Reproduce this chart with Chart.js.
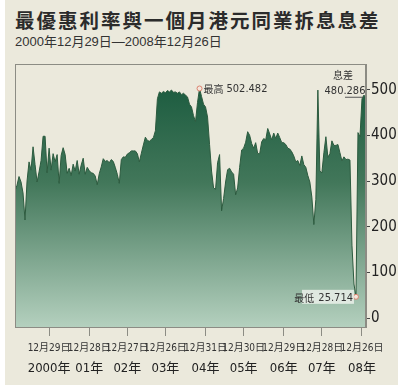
<!DOCTYPE html>
<html>
<head>
<meta charset="utf-8">
<script src="https://cdn.jsdelivr.net/npm/chart.js@4.4.1/dist/chart.umd.min.js"></script>
<style>
  html, body { margin: 0; padding: 0; background: #fff; }
  #panel { position: absolute; left: 5px; top: 0; width: 393px; height: 385px; background: #ebe9dc; }
  #title { position: absolute; left: 15px; top: 8px; margin: 0; font: bold 19.5px "Noto Sans CJK TC", sans-serif;
           letter-spacing: 2px; color: #2b2b2b; line-height: 24px; white-space: nowrap; }
  #sub { position: absolute; left: 15px; top: 34px; font: 13px "Liberation Sans", "Noto Sans CJK TC", sans-serif;
         color: #333; line-height: 16px; white-space: nowrap; }
  #chart { position: absolute; left: 0; top: 0; }
</style>
</head>
<body>
<div id="panel"></div>
<div id="title">最優惠利率與一個月港元同業拆息息差</div>
<div id="sub">2000年12月29日—2008年12月26日</div>
<canvas id="chart" width="400" height="389"></canvas>
<script>
// prime rate minus 1-month HIBOR (roughly two samples a month)
const spread = [
  278, 291, 310, 298, 274, 215, 300, 342, 324, 375, 336, 298, 320, 345, 398, 398,
  318, 372, 324, 360, 342, 358, 295, 356, 373, 358, 317, 328, 312, 337, 322, 345,
  315, 335, 350, 315, 330, 323, 318, 317, 311, 292, 316, 331, 349, 343, 345, 340,
  347, 343, 330, 315, 295, 347, 353, 352, 359, 362, 366, 366, 366, 360, 342, 361,
  379, 396, 389, 387, 391, 395, 410, 480, 495, 492, 496, 493, 498, 495, 499, 494,
  495, 492, 495, 489, 492, 488, 484, 468, 462, 443, 430, 472, 502.482, 485, 468, 462,
  440, 380, 322, 285, 282, 340, 358, 235, 262, 298, 325, 328, 320, 315, 270, 285,
  330, 368, 372, 385, 408, 400, 382, 372, 384, 360, 360, 386, 393, 390, 415, 403,
  390, 405, 393, 405, 395, 384, 384, 380, 372, 370, 364, 355, 342, 345, 334, 355,
  336, 330, 312, 298, 265, 205, 260, 499, 322, 318, 362, 397, 352, 360, 388, 378,
  378, 380, 362, 344, 353, 347, 348, 346, 160, 75, 47, 406, 397, 480, 488, 480
];

// where each year-end date falls in the series
const yearEndIndex = [17, 37, 56, 75, 95, 114, 134, 153, 173];
const dateLabels = ["12月29日", "12月28日", "12月27日", "12月26日", "12月31日", "12月30日", "12月29日", "12月28日", "12月26日"];
const yearLabels = ["2000年", "01年", "02年", "03年", "04年", "05年", "06年", "07年", "08年"];
const yTicks = [0, 100, 200, 300, 400, 500];

const maxText = "502.482";
const minText = "25.714";
const lastText = "480.286";

const maxIdx = spread.indexOf(Math.max(...spread));
const minIdx = spread.indexOf(Math.min(...spread));
const lastIdx = spread.length - 1;

const narrow = '"Liberation Sans Narrow", "DejaVu Sans Condensed", "Liberation Sans", "Noto Sans CJK TC", sans-serif';
const cjk = '"Noto Sans CJK TC", sans-serif';

function areaGradient(ctx) {
  const area = ctx.chart.chartArea;
  if (!area) return "#4a7f60";
  const g = ctx.chart.ctx.createLinearGradient(0, area.top, 0, area.bottom);
  g.addColorStop(0, "#14563a");
  g.addColorStop(0.45, "#42775a");
  g.addColorStop(1, "#b4d0be");
  return g;
}

// thin frame round the plot area
const frame = {
  id: "frame",
  afterDatasetsDraw(chart) {
    const { ctx, chartArea: a } = chart;
    ctx.save();
    ctx.strokeStyle = "#8c8c84";
    ctx.lineWidth = 1;
    ctx.strokeRect(a.left + 0.5, a.top + 0.5, a.right - a.left - 1, a.bottom - a.top);
    ctx.restore();
  }
};

// the high / low / latest notes
const notes = {
  id: "notes",
  afterDatasetsDraw(chart) {
    const ctx = chart.ctx;
    const pts = chart.getDatasetMeta(0).data;
    const pMax = pts[maxIdx], pMin = pts[minIdx], pLast = pts[lastIdx];
    ctx.save();
    ctx.textBaseline = "middle";
    ctx.fillStyle = "#333";

    ctx.textAlign = "left";
    ctx.font = "10px " + cjk;
    ctx.fillText("最高", pMax.x + 4, pMax.y + 1);
    ctx.font = "11px " + narrow;
    ctx.fillText(maxText, pMax.x + 27, pMax.y + 1);

    ctx.fillStyle = "rgba(245,247,243,0.75)";
    ctx.fillRect(pMin.x - 54, pMin.y - 7, 52, 14);
    ctx.fillStyle = "#333";
    ctx.textAlign = "right";
    ctx.font = "11px " + narrow;
    ctx.fillText(minText, pMin.x - 3, pMin.y + 1);
    const w = ctx.measureText(minText).width;
    ctx.font = "10px " + cjk;
    ctx.fillText("最低", pMin.x - 7 - w, pMin.y + 1);

    ctx.textAlign = "center";
    ctx.font = "10px " + cjk;
    ctx.fillText("息差", pLast.x - 23, pLast.y - 24);
    ctx.font = "11px " + narrow;
    ctx.fillText(lastText, pLast.x - 21, pLast.y - 8);
    ctx.strokeStyle = "#555";
    ctx.lineWidth = 1;
    ctx.beginPath();
    ctx.moveTo(pLast.x - 21, pLast.y - 1.5);
    ctx.lineTo(pLast.x - 3, pLast.y - 1.5);
    ctx.stroke();
    ctx.restore();
  }
};

const yearTicks = s => { s.ticks = yearEndIndex.map(v => ({ value: v })); };

new Chart(document.getElementById("chart"), {
  type: "line",
  data: {
    datasets: [{
      data: spread.map((v, i) => ({ x: i, y: v })),
      fill: "start",
      backgroundColor: areaGradient,
      borderColor: "#2b5a3e",
      borderWidth: 1,
      tension: 0,
      pointRadius: c => (c.dataIndex === maxIdx || c.dataIndex === minIdx ? 2.5 : 0),
      pointBorderColor: "#d9826f",
      pointBackgroundColor: "#f3e6dc",
      pointBorderWidth: 1
    }]
  },
  options: {
    responsive: false,
    animation: false,
    layout: { padding: { left: 15, top: 64, right: 0, bottom: 0 } },
    plugins: { legend: { display: false }, tooltip: { enabled: false } },
    scales: {
      x: {
        type: "linear",
        min: 0,
        max: spread.length - 1,
        afterBuildTicks: yearTicks,
        afterFit: s => { s.height = 27; },
        grid: { drawOnChartArea: false, tickLength: 9, color: "#8c8c84" },
        border: { color: "#8c8c84" },
        ticks: {
          autoSkip: false, maxRotation: 0, padding: 6, color: "#333",
          font: { size: 10, family: narrow },
          callback: (v, i) => dateLabels[i]
        }
      },
      x2: {
        type: "linear",
        position: "bottom",
        min: 0,
        max: spread.length - 1,
        afterBuildTicks: yearTicks,
        afterFit: s => { s.height = 35; },
        grid: { display: false, drawTicks: false },
        border: { display: false },
        ticks: {
          autoSkip: false, maxRotation: 0, padding: 7, color: "#222",
          font: { size: 13, family: narrow },
          callback: (v, i) => yearLabels[i]
        }
      },
      y: {
        position: "right",
        min: -19,
        max: 556,
        afterBuildTicks: s => { s.ticks = yTicks.map(v => ({ value: v })); },
        afterFit: s => { s.width = 34; },
        grid: { drawOnChartArea: false, tickLength: 4, color: "#444" },
        border: { color: "#8c8c84" },
        ticks: { padding: 1, color: "#222", font: { size: 15, family: narrow } }
      }
    }
  },
  plugins: [frame, notes]
});
</script>
</body>
</html>
